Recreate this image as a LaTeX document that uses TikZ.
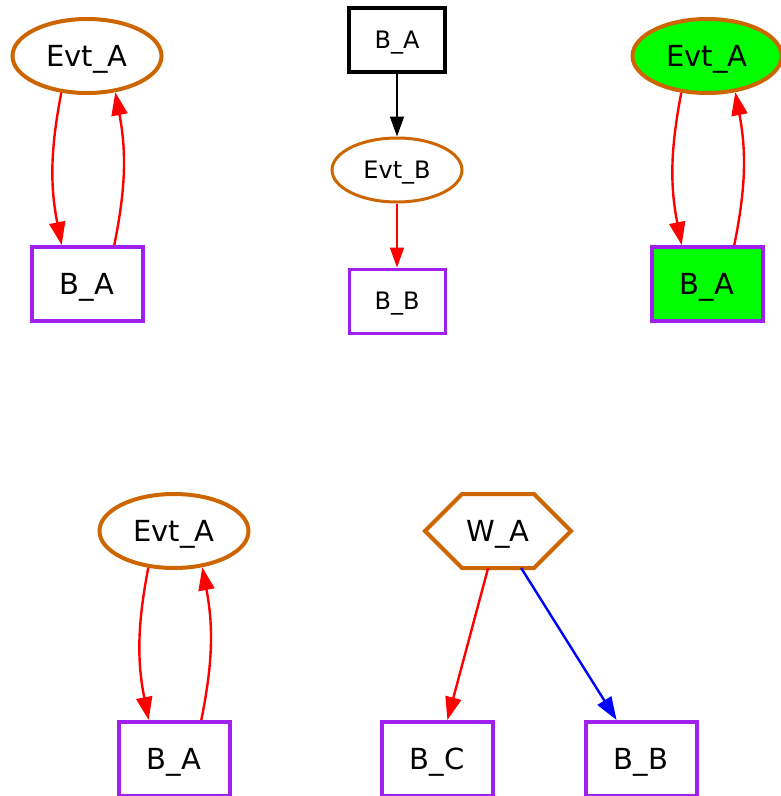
\documentclass[tikz,border=0pt]{standalone}
\usepackage{fontspec}
\setmainfont{DejaVu Sans}
\usetikzlibrary{positioning, arrows.meta, shapes.geometric}
\definecolor{evtorange}{RGB}{205, 102, 0}
\definecolor{behpurple}{RGB}{160, 32, 240}
\definecolor{actgreen}{RGB}{0, 255, 0}

\begin{document}
\begin{tikzpicture}[
    x=1pt, y=-1pt, % positions in points, counted from the top left
    % Event nodes (ellipses)
    evt/.style={
        ellipse,
        draw=evtorange,
        line width=4pt,
        minimum width=149pt,
        minimum height=74pt,
        inner sep=0pt,
        text depth=0pt,
        font=\fontsize{29}{34}\selectfont
    },
    % Behaviour nodes (boxes)
    beh/.style={
        rectangle,
        draw=behpurple,
        line width=4pt,
        minimum width=111pt,
        minimum height=74pt,
        inner sep=0pt,
        text depth=0pt,
        font=\fontsize{29}{34}\selectfont
    },
    % Smaller variants for the middle column
    smallevt/.style={evt, line width=3pt, minimum width=130pt, minimum height=64pt, font=\fontsize{24}{28}\selectfont},
    smallbeh/.style={beh, line width=3pt, minimum width=96pt, minimum height=64pt, font=\fontsize{24}{28}\selectfont},
    active/.style={fill=actgreen},
    % Connectors
    flow/.style={
        draw=#1,
        line width=2.4pt,
        -{Triangle[length=23pt, width=16pt]}
    },
    flow/.default=red,
    thinflow/.style={
        draw=#1,
        line width=1.8pt,
        -{Triangle[length=20pt, width=14pt]}
    },
    thinflow/.default=red
]
\useasboundingbox (0,0) rectangle (781,796);

% Left column: event and its behaviour
\node[evt] (evtA1) at (87,56) {Evt\_A};
\node[beh] (bA1) [below=150pt of evtA1] {B\_A};
\draw[flow] (evtA1.235) to[bend right=11] (bA1.123);
\draw[flow] (bA1.55) to[bend right=11] (evtA1.308);

% Middle column: chain B_A -> Evt_B -> B_B
\node[smallbeh, draw=black, line width=4pt] (bA2) at (397,40) {B\_A};
\node[smallevt] (evtB) at (397,170) {Evt\_B};
\node[smallbeh] (bB2) at (397,301) {B\_B};
\draw[thinflow=black] (bA2) -- (evtB);
\draw[thinflow] (evtB) -- (bB2);

% Right column: active pair
\node[evt, active] (evtA3) at (707,56) {Evt\_A};
\node[beh, active] (bA3) [below=150pt of evtA3] {B\_A};
\draw[flow] (evtA3.235) to[bend right=11] (bA3.123);
\draw[flow] (bA3.55) to[bend right=11] (evtA3.308);

% Bottom left
\node[evt] (evtA4) at (174,531) {Evt\_A};
\node[beh] (bA4) [below=150pt of evtA4] {B\_A};
\draw[flow] (evtA4.235) to[bend right=11] (bA4.123);
\draw[flow] (bA4.55) to[bend right=11] (evtA4.308);

% Bottom right: hexagon W_A with two branches
\node[minimum width=146pt, minimum height=74pt, outer sep=0pt, text depth=0pt,
      font=\fontsize{29}{34}\selectfont] (wA) at (498,531) {W\_A};
\draw[evtorange, line width=4pt]
    (wA.west) -- ([xshift=37pt]wA.north west) -- ([xshift=-37pt]wA.north east)
    -- (wA.east) -- ([xshift=-37pt]wA.south east) -- ([xshift=37pt]wA.south west) -- cycle;
\node[beh] (bC) at (437,759) {B\_C};
\node[beh] (bB5) at (641,759) {B\_B};
\draw[flow] (wA) -- (bC);
\draw[flow=blue] (wA) -- (bB5);

\end{tikzpicture}
\end{document}
